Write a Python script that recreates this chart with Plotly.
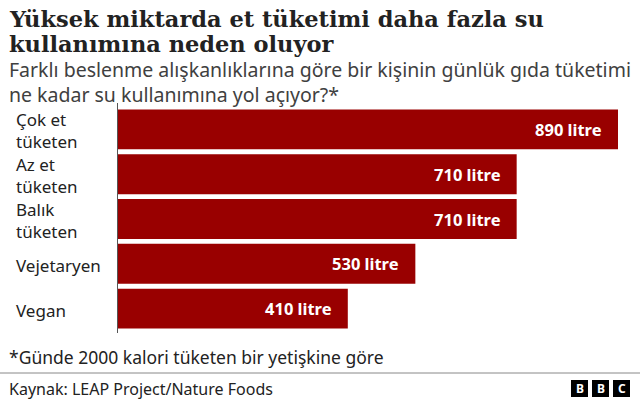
import plotly.graph_objects as go

categories = ["Çok et<br>tüketen", "Az et<br>tüketen", "Balık<br>tüketen", "Vejetaryen", "Vegan"]
values = [890, 710, 710, 530, 410]
value_labels = ["890 litre", "710 litre", "710 litre", "530 litre", "410 litre"]

W, H = 640, 402
def px(x): return x / W
def py(y): return 1 - y / H

BAR = "#990000"
SANS = "Noto Sans"
fig = go.Figure()
fig.add_trace(go.Bar(
    y=list(range(len(values))), x=values, orientation="h",
    marker=dict(color=BAR, line=dict(width=0)),
    hoverinfo="skip",
))

ann = []
def line(x, ymid, text, size, color, family=SANS):
    ann.append(dict(x=px(x), y=py(ymid), xref="paper", yref="paper", xanchor="left", yanchor="middle",
                    text=text, align="left", showarrow=False, font=dict(family=family, size=size, color=color)))

# title
line(7, 18.5, "<b>Yüksek miktarda et tüketimi daha fazla su</b>", 22.5, "#222222", "DejaVu Serif")
line(7, 44.5, "<b>kullanımına neden oluyor</b>", 22.5, "#222222", "DejaVu Serif")
# subtitle
line(7, 81.5, "Farklı beslenme alışkanlıklarına göre bir kişinin günlük gıda tüketimi<br>ne kadar su kullanımına yol açıyor?*", 19.5, "#404040")

# category labels and value labels
for i, c in enumerate(categories):
    two = "<br>" in c
    ann.append(dict(x=px(14), y=i, xref="paper", yref="y", xanchor="left", yanchor="middle",
                    yshift=(-1.5 if two else -1.5), text=c, align="left", showarrow=False,
                    font=dict(family=SANS, size=17, color="#222222")))
    ann.append(dict(x=values[i], y=i, xref="x", yref="y", xanchor="right", yanchor="middle",
                    xshift=-14, text="<b>" + value_labels[i] + "</b>", showarrow=False,
                    font=dict(family=SANS, size=16.5, color="white")))

# footnote & source
line(7, 356.5, "*Günde 2000 kalori tüketen bir yetişkine göre", 17.5, "#222222")
line(7, 389, "Kaynak: LEAP Project/Nature Foods", 16, "#222222")

shapes = []
shapes.append(dict(type="line", xref="paper", yref="paper", x0=0, x1=1, y0=py(373), y1=py(373),
                   line=dict(color="#888888", width=1)))
shapes.append(dict(type="line", xref="paper", yref="paper", x0=px(117.5), x1=px(117.5), y0=py(103), y1=py(333),
                   line=dict(color="#555555", width=1)))
# BBC logo blocks
for k, letter in enumerate(["B", "B", "C"]):
    x0 = 571 + k * 21
    shapes.append(dict(type="rect", xref="paper", yref="paper", x0=px(x0), x1=px(x0 + 17),
                       y0=py(397), y1=py(380), fillcolor="black", line=dict(width=0)))
    ann.append(dict(x=px(x0 + 8.5), y=py(388.5), xref="paper", yref="paper", xanchor="center", yanchor="middle",
                    text="<b>" + letter + "</b>", showarrow=False,
                    font=dict(family=SANS, size=12, color="white")))

fig.update_layout(
    width=W, height=H, margin=dict(l=0, r=0, t=0, b=0),
    paper_bgcolor="white", plot_bgcolor="white",
    bargap=0.11, showlegend=False,
    xaxis=dict(domain=[px(117), px(618)], range=[0, 890], visible=False, fixedrange=True),
    yaxis=dict(domain=[py(331), py(107)], range=[4.5, -0.5], visible=False, fixedrange=True),
    annotations=ann, shapes=shapes,
)
fig.write_html("out.html", config={"displayModeBar": False},
               post_script="document.body.style.margin='0';document.body.style.overflow='hidden';")
